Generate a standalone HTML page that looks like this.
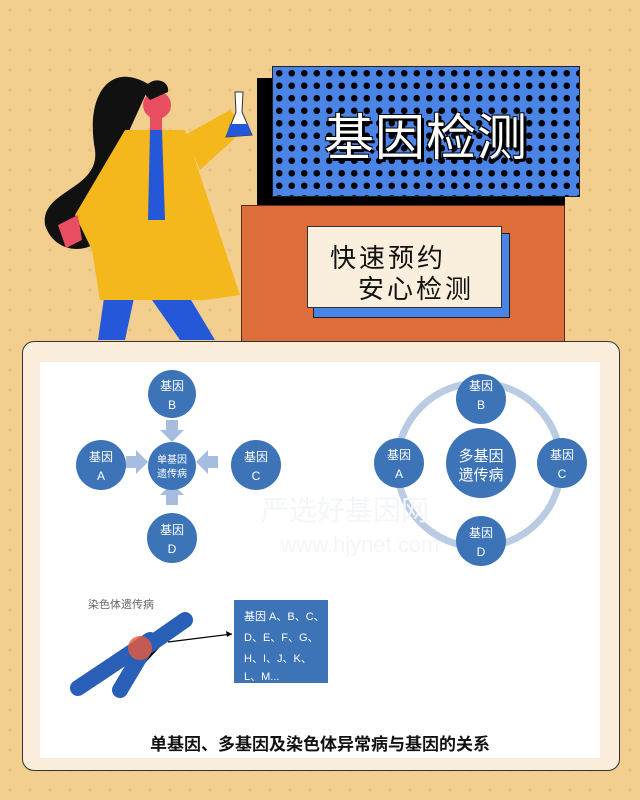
<!DOCTYPE html>
<html><head><meta charset="utf-8"><style>
body{margin:0;width:640px;height:800px;overflow:hidden;background:#f2cf8e;font-family:"Liberation Sans","Noto Sans CJK SC",sans-serif;position:relative}
.bgdots{position:absolute;inset:0;background-image:radial-gradient(circle,#e7c17f 1.5px,transparent 2px);background-size:20px 20px}
.abs{position:absolute}
</style></head><body>
<div class="bgdots"></div>
<div class="abs" style="left:257px;top:78px;width:308px;height:127px;background:#000"></div>
<div class="abs" style="left:272px;top:66px;width:308px;height:131px;background:#4a84e6 radial-gradient(circle,#000 3px,transparent 3.5px) 0 0/12.5px 12.5px;border:1px solid #222;box-sizing:border-box"></div>
<div class="abs" style="left:272px;top:98px;width:308px;text-align:center;font-size:50px;color:#fff;letter-spacing:1px;text-shadow:3px 3px 0 #000,-1px -1px 0 #000,1px -1px 0 #000,-1px 1px 0 #000">基因检测</div>
<div class="abs" style="left:241px;top:205px;width:324px;height:137px;background:#dd6d3b;border:1px solid #5a2a10;box-sizing:border-box"></div>
<div class="abs" style="left:313px;top:233px;width:197px;height:85px;background:#4a84e6;border:1px solid #222;box-sizing:border-box"></div>
<div class="abs" style="left:307px;top:226px;width:195px;height:82px;background:#faeedd;border:1px solid #333;box-sizing:border-box"></div>
<div class="abs" style="left:330px;top:238px;font-size:26px;color:#111;letter-spacing:3px">快速预约</div>
<div class="abs" style="left:358px;top:269px;font-size:26px;color:#111;letter-spacing:3px">安心检测</div>
<svg class="abs" style="left:0;top:0" width="260" height="345">
<path d="M150 85 C110 60 85 95 95 150 C100 190 40 190 45 225 C55 255 90 255 105 235 L125 140 Z" fill="#111"/>
<circle cx="157" cy="105" r="14" fill="#e84d60"/>
<path d="M143 92 C148 75 170 78 168 92 L150 100Z" fill="#111"/>
<rect x="150" y="115" width="12" height="20" fill="#e84d60"/>
<path d="M98 340 L108 270 L140 270 L125 340Z" fill="#2557d9"/>
<path d="M150 250 L185 290 L215 340 L180 340 L145 290Z" fill="#2557d9"/>
<path d="M125 130 L185 130 L240 295 L205 300 L100 300 L92 250 L75 215 Z" fill="#f4b81d"/>
<path d="M150 130 L162 130 L165 220 L148 220Z" fill="#2557d9"/>
<path d="M185 135 L230 110 L246 128 L200 170Z" fill="#f4b81d"/>
<path d="M58 225 L78 215 L82 240 L66 248Z" fill="#e84d60"/>
<path d="M235 92 L243 92 L242 112 L252 135 L226 137 L236 112Z" fill="#fff" stroke="#333"/>
<path d="M230 124 L248 124 L252 135 L226 137Z" fill="#2557d9"/>
</svg>
<div class="abs" style="left:22px;top:341px;width:598px;height:430px;background:#fbeedd;border:1px solid #333;border-radius:12px;box-sizing:border-box"></div>
<div class="abs" style="left:40px;top:362px;width:560px;height:396px;background:#fff"></div>
<svg class="abs" style="left:0;top:0" width="640" height="800" font-family="Liberation Sans,Noto Sans CJK SC,sans-serif">
<g fill="#a7bde0">
<path d="M166 420 h12 v10 h6 l-12 12 l-12 -12 h6z"/>
<path d="M166 505 h12 v-10 h6 l-12 -12 l-12 12 h6z"/>
<path d="M126 456 v12 h10 v6 l12 -12 l-12 -12 v6z"/>
<path d="M218 456 v12 h-10 v6 l-12 -12 l12 -12 v6z"/>
</g>
<circle cx="479" cy="465" r="82" fill="none" stroke="#bccbe4" stroke-width="7"/>
<g fill="#3d74b8">
<circle cx="172" cy="394" r="24"/><circle cx="101" cy="465" r="25"/><circle cx="172" cy="466" r="24"/><circle cx="256" cy="465" r="25"/><circle cx="172" cy="538" r="25"/>
<circle cx="481" cy="399" r="25"/><circle cx="399" cy="463" r="25"/><circle cx="481" cy="463" r="35"/><circle cx="562" cy="463" r="25"/><circle cx="481" cy="541" r="25"/>
</g>
<g fill="#fff" font-size="12" text-anchor="middle">
<text x="172" y="390">基因</text><text x="172" y="409">B</text>
<text x="101" y="461">基因</text><text x="101" y="480">A</text>
<text x="256" y="461">基因</text><text x="256" y="480">C</text>
<text x="172" y="534">基因</text><text x="172" y="553">D</text>
<text x="172" y="463" font-size="10">单基因</text><text x="172" y="477" font-size="10">遗传病</text>
<text x="481" y="390">基因</text><text x="481" y="409">B</text>
<text x="399" y="459">基因</text><text x="399" y="478">A</text>
<text x="562" y="459">基因</text><text x="562" y="478">C</text>
<text x="481" y="537">基因</text><text x="481" y="556">D</text>
<text x="481" y="461" font-size="15">多基因</text><text x="481" y="480" font-size="15">遗传病</text>
</g>
<text x="345" y="520" font-size="28" fill="#f3f5f8" text-anchor="middle">严选好基因网</text>
<text x="360" y="552" font-size="22" fill="#f3f5f8" text-anchor="middle">www.hjynet.com</text>
<text x="88" y="608" font-size="11" fill="#666">染色体遗传病</text>
<path d="M78 688 L150 640" stroke="#2a5fb8" stroke-width="16" stroke-linecap="round"/>
<path d="M120 690 L145 648 L185 620" stroke="#2a5fb8" stroke-width="16" stroke-linecap="round"/>
<circle cx="140" cy="648" r="12" fill="#e85a3a" opacity=".8"/>
<line x1="168" y1="642" x2="232" y2="634" stroke="#000" stroke-width="1.2"/>
<path d="M232 634 l-6 -3 l1 6z" fill="#000"/>
<rect x="234" y="600" width="94" height="83" fill="#3d74b8"/>
<g fill="#fff" font-size="11"><text x="244" y="620">基因 A、B、C、</text><text x="244" y="641">D、E、F、G、</text><text x="244" y="662">H、I、J、K、</text><text x="244" y="680">L、M...</text></g>
<text x="320" y="750" font-size="17" font-weight="bold" fill="#111" text-anchor="middle">单基因、多基因及染色体异常病与基因的关系</text>
</svg>
</body></html>
